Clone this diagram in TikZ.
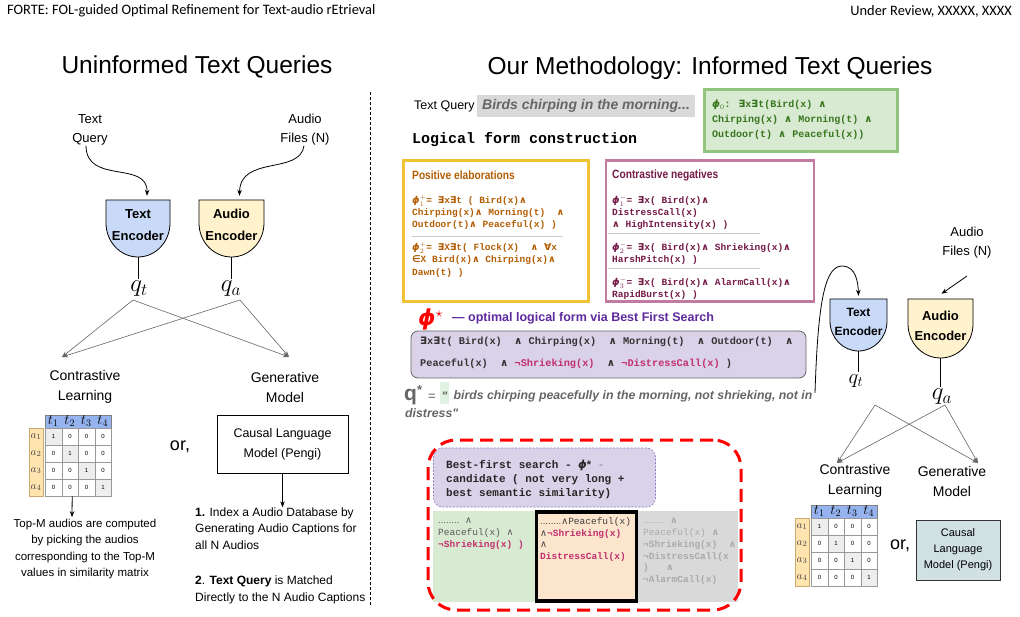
\documentclass[tikz,border=0pt]{standalone}
\usepackage{amsmath}
\usepackage{graphicx}
\usepackage{fontspec}
\usetikzlibrary{arrows.meta}
\newfontfamily\arial{Liberation Sans}
\newfontfamily\cour{Liberation Mono}
\newfontfamily\symf{DejaVu Sans}
\newfontfamily\hdr{Carlito}
\newcommand\fsz[2]{\fontsize{#1}{#2}\selectfont}
\newcommand\andop{{\symf ∧}}
\newcommand\exop{{\symf ∃}}
\newcommand\faop{{\symf ∀}}
\newcommand\inop{{\symf ∈}}
\newcommand\bphi{{\symf\bfseries\itshape ϕ}}
\definecolor{encblue}{HTML}{C9DAF8}
\definecolor{encyellow}{HTML}{FFF2CC}
\definecolor{posc}{HTML}{B45F06}
\definecolor{negc}{HTML}{741B47}
\definecolor{gtext}{HTML}{38761D}
\definecolor{gfill}{HTML}{D9EAD3}
\definecolor{gborder}{HTML}{93C47D}
\definecolor{yborder}{HTML}{F1C232}
\definecolor{pborder}{HTML}{C27BA0}
\definecolor{pfill}{HTML}{D9D2E9}
\definecolor{mag}{HTML}{C2306E}
\definecolor{purpt}{HTML}{5E2A9E}
\definecolor{qgray}{HTML}{666666}
\definecolor{tqgray}{HTML}{D9D9D9}
\definecolor{bfborder}{HTML}{8E7CC3}
\definecolor{orfill}{HTML}{FCE5CD}
\definecolor{grfill}{HTML}{D9D9D9}
\definecolor{capfill}{HTML}{D0E0E3}
\definecolor{mbandc}{HTML}{95B3EE}
\definecolor{abandc}{HTML}{FFE4B0}
\definecolor{abandb}{HTML}{C9A96E}
\definecolor{diagc}{HTML}{EEEEEE}
\definecolor{cellb}{HTML}{999999}
\definecolor{qgreen}{HTML}{E2F2E2}
\definecolor{sepc}{HTML}{CCCCCC}
\newcommand\encshape[6]{\draw[fill=#6, line width=0.8pt] (#1,#2) -- ++({2*#4},0) -- ++(0,#3) arc[start angle=0,end angle=-180,x radius=#4pt,y radius=#5pt] -- cycle;}
\newcommand\simmat[3]{%
  \node[minimum width=66pt,minimum height=68pt,anchor=north west] (#3) at (#1,#2) {};
  \draw[fill=mbandc, draw=black!50, line width=0.4pt] (#1,{#2-13}) rectangle ({#1+66},#2);
  \foreach \i in {1,...,4} {\node[font=\fsz{14}{14}] (#3-t\i) at ({#1+(\i-0.5)*16.5},{#2-7}) {$t_{\i}$};}
  \draw[fill=abandc, draw=abandb, line width=0.5pt] ({#1-16},#2) rectangle ({#1-2},{#2+68});
  \foreach \r in {0,...,3} {%
    \pgfmathtruncatemacro\rr{\r+1}%
    \node[font=\fsz{11}{11}, text=black!75] (#3-a\r) at ({#1-9},{#2+8.5+17*\r}) {$a_{\rr}$};
    \foreach \c in {0,...,3} {%
      \ifnum\r=\c \def\cv{1}\def\cf{diagc}\else\def\cv{0}\def\cf{white}\fi
      \node[draw=cellb, line width=0.7pt, fill=\cf, minimum width=16.5pt, minimum height=17pt, font=\arial\fsz{6}{6}, anchor=north west] (#3-\r-\c) at ({#1+16.5*\c},{#2+17*\r}) {\cv};
    }%
  }%
}
\begin{document}
\begin{tikzpicture}[x=1pt,y=-1pt,
  every node/.style={inner sep=0pt},
  lab/.style={font=\arial\fsz{13}{19}, align=center},
  lab14/.style={font=\arial\fsz{14}{20}, align=center},
  big/.style={font=\arial\fsz{24.5}{28}},
  enc/.style={font=\arial\bfseries\fsz{13}{22}, align=center},
  qsym/.style={inner sep=2pt},
  gl/.style={draw=black!60, line width=0.6pt, -{Stealth[length=6pt,width=4.5pt]}},
  arr/.style={draw=black, line width=0.8pt, -{Stealth[length=6pt,width=4.5pt]}},
  mono/.style={font=\cour\bfseries\fsz{9.5}{12}, align=left, anchor=west},
  boxtitle/.style={font=\arial\bfseries\fsz{12}{12}, anchor=west},
  sepline/.style={draw=sepc, line width=1pt},
 ]
\fill[white] (0,0) rectangle (1020,617);
\useasboundingbox (0,0) rectangle (1020,617);
% header
\node[font=\hdr\fsz{14.4}{16}, anchor=west] (hl) at (7,11) {FORTE: FOL-guided Optimal Refinement for Text-audio rEtrieval};
\node[font=\hdr\fsz{14.4}{16}, anchor=east] (hr) at (1012,11) {Under Review, XXXXX, XXXX};
% titles
\node[big] (utitle) at (197,67) {Uninformed Text Queries};
\node[big] (otitle) at (710,68) {Our Methodology: Informed Text Queries};
% separator
\coordinate (st) at (370,92); \coordinate (sb) at (370,607);
\draw[line width=0.7pt, dash pattern=on 3pt off 2pt] (st) -- (sb);
% ---------------- left
\node[lab] (ltq) at (90,130) {Text\\Query};
\node[lab] (laf) at (305,130) {Audio\\Files (N)};
\encshape{106}{200}{23}{32}{34}{encblue}
\encshape{199}{200}{23}{32.5}{34}{encyellow}
\node[minimum width=64pt,minimum height=57pt] (lte) at (138,228.5) {};
\node[minimum width=65pt,minimum height=57pt] (lae) at (231.5,228.5) {};
\node[enc] (ltet) at (138,225) {Text\\Encoder};
\node[enc] (laet) at (231.5,225) {Audio\\Encoder};
\draw[arr] ([xshift=-4pt]ltq.south) .. controls (86,185) and (148,160) .. ([xshift=9pt,yshift=4pt]lte.north);
\draw[arr] ([xshift=-1pt]laf.south) .. controls (300,175) and (240,155) .. ([xshift=8pt,yshift=4pt]lae.north);
\node[qsym, font=\fsz{24}{24}] (lqt) at (139,289) {$q_t$};
\node[qsym, font=\fsz{24}{24}] (lqa) at (231,289) {$q_a$};
\draw[line width=0.8pt] (lte.south) -- (lte.south |- lqt.north);
\draw[line width=0.8pt] (lae.south) -- (lae.south |- lqa.north);
\coordinate (lxt) at (133,300); \coordinate (lxa) at (240,300);
\coordinate (lcin) at (62,357); \coordinate (lgin) at (289,357);
\draw[gl] (lxt) -- (lcin); \draw[gl] (lxt) -- (lgin);
\draw[gl] (lxa) -- (lcin); \draw[gl] (lxa) -- (lgin);
\node[lab14] (lcl) at (85,387) {Contrastive\\Learning};
\node[lab14] (lgm) at (285,387) {Generative\\Model};
\simmat{45}{428}{lm}
\node[font=\arial\fsz{11.5}{16.2}, align=center] (ltop) at (85,549) {Top-M audios are computed\\by picking the audios\\corresponding to the Top-M\\values in similarity matrix};
\draw[arr] ([xshift=-6pt]lm.south) -- ([xshift=-13pt,yshift=2pt]ltop.north);
\node[font=\arial\fsz{18}{18}] (lor) at (180,447) {or,};
\node[draw, line width=0.8pt, minimum width=131pt, minimum height=58pt, font=\arial\fsz{12.5}{20}, align=center] (lcm) at (282.5,444) {Causal Language\\Model (Pengi)};
\node[font=\arial\fsz{12}{16.5}, align=left, anchor=west] (lidx) at (195,528.5) {\textbf{1.} Index a Audio Database by\\Generating Audio Captions for\\all N Audios};
\node[font=\arial\fsz{12}{16.5}, align=left, anchor=west] (lmatch) at (195,590) {\textbf{2}. \textbf{Text Query} is Matched\\Directly to the N Audio Captions};
\draw[arr] (lcm.south) -- (lcm.south |- lidx.north);
% ---------------- right top
\node[font=\arial\fsz{12.5}{14}, anchor=west] (rtq) at (414,106) {Text Query};
\node[fill=tqgray, minimum height=22pt, inner xsep=0pt, anchor=west, font=\arial\bfseries\itshape\fsz{14}{16}, text=qgray] (tqb) at (477,106) {\makebox[218pt][l]{\hspace{5pt}Birds chirping in the morning...}};
\node[draw=gborder, fill=gfill, line width=3pt, minimum width=193pt, minimum height=62pt] (phi0box) at (800.5,121) {};
\node[mono, font=\cour\bfseries\fsz{10}{15}, text=gtext] (phi0t) at (712,120) {\bphi$_{0}$: \exop x\exop t(Bird(x) \andop\\Chirping(x) \andop{} Morning(t) \andop\\Outdoor(t) \andop{} Peaceful(x))};
\node[font=\cour\bfseries\fsz{15}{16}, anchor=west] (lfc) at (412,140) {Logical form construction};
% positive
\node[draw=yborder, fill=white, line width=3pt, minimum width=185pt, minimum height=141pt] (posbox) at (495.5,231) {};
\node[boxtitle, text=posc] (post) at (412,175) {\scalebox{0.85}[1]{Positive elaborations}};
\node[mono, text=posc] (pos1) at (412,212) {\bphi$^{+}_{1}$= \exop x\exop t ( Bird(x)\andop\\Chirping(x)\andop{} Morning(t) ~\andop\\Outdoor(t)\andop{} Peaceful(x) )};
\coordinate (ps1) at (412,237); \coordinate (ps2) at (563,237);
\draw[sepline] (ps1) -- (ps2);
\node[mono, font=\cour\bfseries\fsz{9.5}{12.5}, text=posc] (pos2) at (412,259.5) {\bphi$^{+}_{2}$= \exop X\exop t( Flock(X) ~\andop{} \faop x\\\inop X Bird(x)\andop{} Chirping(x)\andop\\Dawn(t) )};
% negative
\node[draw=pborder, fill=white, line width=2.5pt, minimum width=208pt, minimum height=141pt] (negbox) at (710,231) {};
\node[boxtitle, text=negc] (negt) at (612,175) {\scalebox{0.85}[1]{Contrastive negatives}};
\node[mono, text=negc] (neg1) at (612,212) {\bphi$^{-}_{1}$= \exop x( Bird(x)\andop\\DistressCall(x)\\\andop{} HighIntensity(x) )};
\coordinate (ns1) at (608,234); \coordinate (ns2) at (760,234);
\draw[sepline] (ns1) -- (ns2);
\node[mono, text=negc] (neg2) at (612,253) {\bphi$^{-}_{2}$= \exop x( Bird(x)\andop{} Shrieking(x)\andop\\HarshPitch(x) )};
\coordinate (ns3) at (608,269); \coordinate (ns4) at (760,269);
\draw[sepline] (ns3) -- (ns4);
\node[mono, text=negc] (neg3) at (612,288) {\bphi$^{-}_{3}$= \exop x( Bird(x)\andop{} AlarmCall(x)\andop\\RapidBurst(x) )};
% phi star
\node[anchor=west, font=\fsz{22}{22}, text=red] (phis) at (418,319) {\bphi$^{\star}$};
\node[anchor=west, font=\arial\bfseries\fsz{12.5}{14}, text=purpt] (phist) at (452,318) {— optimal logical form via Best First Search};
\node[draw=black!60, fill=pfill, line width=0.8pt, rounded corners=7pt, minimum width=395pt, minimum height=47pt] (pbox) at (608.5,354.5) {};
\node[mono, font=\cour\bfseries\fsz{10.25}{22}, text=black!80] (pboxt) at (420,353) {\exop x\exop t( Bird(x) ~\andop{} Chirping(x) ~\andop{} Morning(t) ~\andop{} Outdoor(t) ~\andop\\Peaceful(x) ~\andop{} {\color{mag}¬Shrieking(x)} ~\andop{} {\color{mag}¬DistressCall(x)} )};
% q star
\node[anchor=west, font=\arial\bfseries\fsz{21}{21}, text=qgray] (qstar) at (404,395) {q\raisebox{6pt}{\fsz{13}{13}*}};
\node[font=\arial\fsz{13}{13}, text=qgray] (qeq) at (432,397) {=};
\node[fill=qgreen, minimum width=9pt, minimum height=22pt] (qgr) at (444.5,393) {};
\node[font=\arial\bfseries\itshape\fsz{12.3}{12}, text=qgray] (qq) at (444.5,396) {"};
\node[anchor=west, font=\arial\bfseries\itshape\fsz{12.3}{12}, text=qgray] (qtxt) at (450,396) {\ birds chirping peacefully in the morning, not shrieking, not in};
\node[anchor=west, font=\arial\bfseries\itshape\fsz{12.3}{12}, text=qgray] (qtxt2) at (405,413) {distress"};
% ---------------- search box
\node[fill=gfill, minimum width=102pt, minimum height=91pt] (pg) at (484,556.5) {};
\node[fill=grfill, minimum width=101pt, minimum height=91pt] (pgr) at (687.5,556.5) {};
\node[fill=orfill, draw=black, line width=3.5pt, minimum width=100pt, minimum height=89pt] (po) at (586.5,556.5) {};
\node[mono, font=\cour\fsz{9.5}{12}, text=black!65] (pgt) at (438,534) {{\arial........}\ \andop\\Peaceful(x) \andop\\{\bfseries\color{mag}¬Shrieking(x) )}};
\node[mono, font=\cour\fsz{9.5}{11.8}, text=black!75] (pot) at (540,539.5) {{\arial........}\andop Peaceful(x)\\\andop{\bfseries\color{mag}¬Shrieking(x)}\\\andop\\{\bfseries\color{mag}DistressCall(x)}};
\node[mono, font=\cour\bfseries\fsz{9.5}{11.8}, text=black!33] (pgrt) at (643,551.5) {{\mdseries\arial........}\ \andop\\{\mdseries Peaceful(x)} \andop\\¬Shrieking(x) ~\andop\\¬DistressCall(x\\) ~~\andop\\¬AlarmCall(x)};
\node[draw=bfborder, fill=pfill, line width=0.6pt, dash pattern=on 2pt off 1.5pt, rounded corners=9pt, minimum width=222pt, minimum height=59pt] (bfbox) at (544.5,477.5) {};
\node[mono, font=\cour\bfseries\fsz{11}{14}, text=black!85] (bft) at (446,479) {Best-first search - \bphi{\arial\fsz{11}{11}*} {\mdseries\color{black!50}-}\\candidate ( not very long +\\best semantic similarity)};
\node[draw=red, line width=3pt, dash pattern=on 13pt off 7pt, rounded corners=28pt, minimum width=313pt, minimum height=170pt] (sbox) at (584.5,525) {};
% ---------------- right encoders
\node[lab] (raf) at (967,243) {Audio\\Files (N)};
\encshape{830}{299}{22}{28.5}{30}{encblue}
\encshape{908}{299}{25}{32.5}{34}{encyellow}
\node[minimum width=57pt,minimum height=52pt] (rte) at (858.5,325) {};
\node[minimum width=65pt,minimum height=59pt] (rae) at (940.5,328.5) {};
\node[enc, font=\arial\bfseries\fsz{12}{19}] (rtet) at (858.5,322) {Text\\Encoder};
\node[enc, font=\arial\bfseries\fsz{13}{20}] (raet) at (940.5,326) {Audio\\Encoder};
\coordinate (qsrc) at (815,393);
\draw[arr] (qsrc) .. controls (818,300) and (825,265) .. (843,266) .. controls (856,267) and (858,282) .. ([yshift=3pt]rte.north);
\coordinate (rafs) at (967,276);
\draw[arr] (rafs) -- ([xshift=1pt,yshift=5pt]rae.north);
\node[qsym, font=\fsz{22}{22}] (rqt) at (856,381) {$q_t$};
\node[qsym, font=\fsz{25}{25}] (rqa) at (942,397) {$q_a$};
\draw[line width=0.8pt] (rte.south) -- (rte.south |- rqt.north);
\draw[line width=0.8pt] (rae.south) -- (rae.south |- rqa.north);
\coordinate (rxt) at (875,405); \coordinate (rxa) at (945,405);
\coordinate (rcin) at (837,463); \coordinate (rgin) at (978,463);
\draw[gl] (rxt) -- (rcin); \draw[gl] (rxt) -- (rgin);
\draw[gl] (rxa) -- (rcin); \draw[gl] (rxa) -- (rgin);
\node[lab14] (rcl) at (855,481) {Contrastive\\Learning};
\node[lab14] (rgm) at (952,481) {Generative\\Model};
\simmat{811}{518}{rm}
\node[font=\arial\fsz{18}{18}] (ror) at (900,546) {or,};
\node[draw=black!80, fill=capfill, line width=0.8pt, minimum width=84pt, minimum height=60pt, font=\arial\fsz{11}{16}, align=center] (rcm) at (958,550) {Causal\\Language\\Model (Pengi)};
\end{tikzpicture}
\end{document}
